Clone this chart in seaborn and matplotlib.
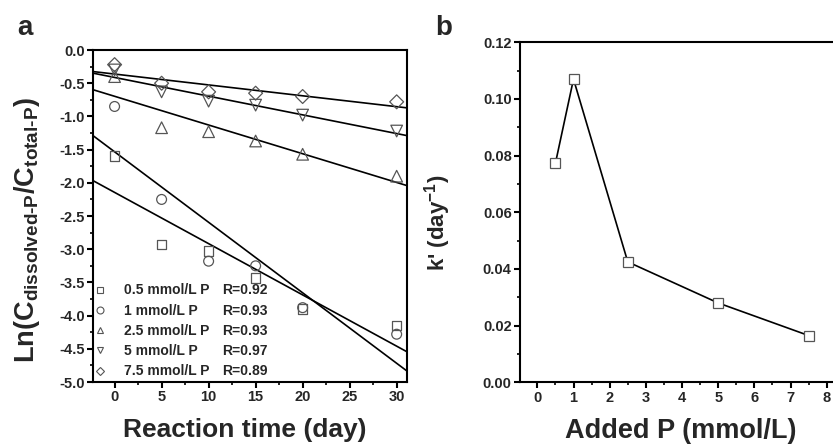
import numpy as np
import pandas as pd
import seaborn as sns
import matplotlib.pyplot as plt
from matplotlib.lines import Line2D
from matplotlib.ticker import MultipleLocator

# panel a: ln(C_dissolved/C_total) vs reaction time
days = [0, 5, 10, 15, 20, 30]
p05 = [-1.60, -2.93, -3.03, -3.43, -3.90, -4.15]
p1 = [-0.85, -2.25, -3.18, -3.25, -3.88, -4.28]
p25 = [-0.40, -1.17, -1.23, -1.37, -1.57, -1.90]
p5 = [-0.30, -0.63, -0.77, -0.83, -0.98, -1.22]
p75 = [-0.22, -0.50, -0.63, -0.65, -0.70, -0.78]
series_labels = ['0.5 mmol/L P', '1 mmol/L P', '2.5 mmol/L P', '5 mmol/L P', '7.5 mmol/L P']
r_labels = ['R=0.92', 'R=0.93', 'R=0.93', 'R=0.97', 'R=0.89']

# panel b: rate constant vs added P
added_p = [0.5, 1, 2.5, 5, 7.5]
k_rate = [0.0773, 0.107, 0.0425, 0.028, 0.0165]

sns.set_style('ticks')
plt.rcParams['font.family'] = ['Liberation Sans', 'DejaVu Sans']
plt.rcParams['font.weight'] = 'bold'
plt.rcParams['axes.labelweight'] = 'bold'
plt.rcParams['axes.unicode_minus'] = False
plt.rcParams['mathtext.fontset'] = 'custom'
plt.rcParams['mathtext.rm'] = 'Liberation Sans:bold'
plt.rcParams['mathtext.it'] = 'Liberation Sans:bold'
plt.rcParams['mathtext.bf'] = 'Liberation Sans:bold'

df = pd.DataFrame({'day': days * 5,
                   'val': p05 + p1 + p25 + p5 + p75,
                   'grp': np.repeat(series_labels, len(days))})
markers = ['s', 'o', '^', 'v', 'D']
msizes = [48, 50, 70, 70, 50]
edge = '#555555'

fig = plt.figure(figsize=(8.33, 4.44), dpi=100)
ax1 = fig.add_axes([0.1116, 0.1396, 0.377, 0.7477])
ax2 = fig.add_axes([0.6242, 0.139, 0.390, 0.7657])


def style_axis(ax):
    for s in ax.spines.values():
        s.set_linewidth(1.5)
        s.set_color('black')
    ax.tick_params(which='major', direction='out', length=4, width=1.5,
                   labelsize=10.5, top=False, right=False, color='black', pad=2)
    ax.tick_params(which='minor', direction='out', length=2.5, width=1.2,
                   top=False, right=False, color='black')
    for lab in ax.get_xticklabels() + ax.get_yticklabels():
        lab.set_fontweight('bold')


ax1.set_xlim(-2.3, 31.1)
ax1.set_ylim(-5.0, 0.0)
for lab, m, ms in zip(series_labels, markers, msizes):
    sub = df[df['grp'] == lab]
    sns.regplot(data=sub, x='day', y='val', ax=ax1, ci=None, truncate=False,
                marker=m,
                scatter_kws={'facecolors': 'none', 'edgecolors': edge,
                             'linewidths': 0.9, 's': ms, 'alpha': 1, 'zorder': 3},
                line_kws={'color': 'black', 'linewidth': 1.2, 'zorder': 2})
ax1.set_xlim(-2.3, 31.1)
ax1.set_ylim(-5.0, 0.0)
ax1.xaxis.set_major_locator(MultipleLocator(5))
ax1.xaxis.set_minor_locator(MultipleLocator(2.5))
ax1.yaxis.set_major_locator(MultipleLocator(0.5))
ax1.yaxis.set_minor_locator(MultipleLocator(0.25))
ax1.yaxis.set_major_formatter(plt.FormatStrFormatter('%.1f'))
ax1.set_xlabel('Reaction time (day)', fontsize=19, fontweight='bold', va='top')
ax1.xaxis.set_label_coords(0.484, -0.108)
ax1.set_ylabel(r'Ln(C$_{\mathrm{dissolved\text{-}P}}$/C$_{\mathrm{total\text{-}P}}$)',
               fontsize=19.5, fontweight='bold')
ax1.yaxis.set_label_coords(-0.163, 0.458)
style_axis(ax1)

handles = [Line2D([], [], linestyle='none', marker=m, markersize=5 if m != 'D' else 4.5,
                  markerfacecolor='none', markeredgecolor=edge, markeredgewidth=0.8)
           for m in markers]
leg1 = ax1.legend(handles, series_labels, loc='lower left', bbox_to_anchor=(0.003, 0.011),
                  frameon=False, handlelength=0.85, handletextpad=1.3,
                  labelspacing=0.45, borderaxespad=0, borderpad=0,
                  prop={'weight': 'bold', 'size': 10})
ax1.add_artist(leg1)
blank = [Line2D([], [], linestyle='none') for _ in markers]
ax1.legend(blank, r_labels, loc='lower left', bbox_to_anchor=(0.41, 0.011),
           frameon=False, handlelength=0, handletextpad=0,
           labelspacing=0.45, borderaxespad=0, borderpad=0,
           prop={'weight': 'bold', 'size': 10})

sns.lineplot(x=added_p, y=k_rate, ax=ax2, color='black', linewidth=1.2,
             marker='s', markersize=7.5, markerfacecolor='white',
             markeredgecolor=edge, markeredgewidth=0.9)
ax2.set_xlim(-0.48, 8.5)
ax2.set_ylim(0.0, 0.12)
ax2.xaxis.set_major_locator(MultipleLocator(1))
ax2.xaxis.set_minor_locator(MultipleLocator(0.5))
ax2.yaxis.set_major_locator(MultipleLocator(0.02))
ax2.yaxis.set_minor_locator(MultipleLocator(0.01))
ax2.yaxis.set_major_formatter(plt.FormatStrFormatter('%.2f'))
ax2.set_xlabel('Added P (mmol/L)', fontsize=19.5, fontweight='bold', va='top')
ax2.xaxis.set_label_coords(0.495, -0.105)
ax2.set_ylabel(r"k' (day$^{-1}$)", fontsize=16, fontweight='bold')
ax2.yaxis.set_label_coords(-0.205, 0.468)
style_axis(ax2)

fig.text(17 / 833, 1 - 35 / 444, 'a', fontsize=20, fontweight='bold', va='baseline')
fig.text(435 / 833, 1 - 35 / 444, 'b', fontsize=20, fontweight='bold', va='baseline')

fig.savefig('out.png', dpi=100)
